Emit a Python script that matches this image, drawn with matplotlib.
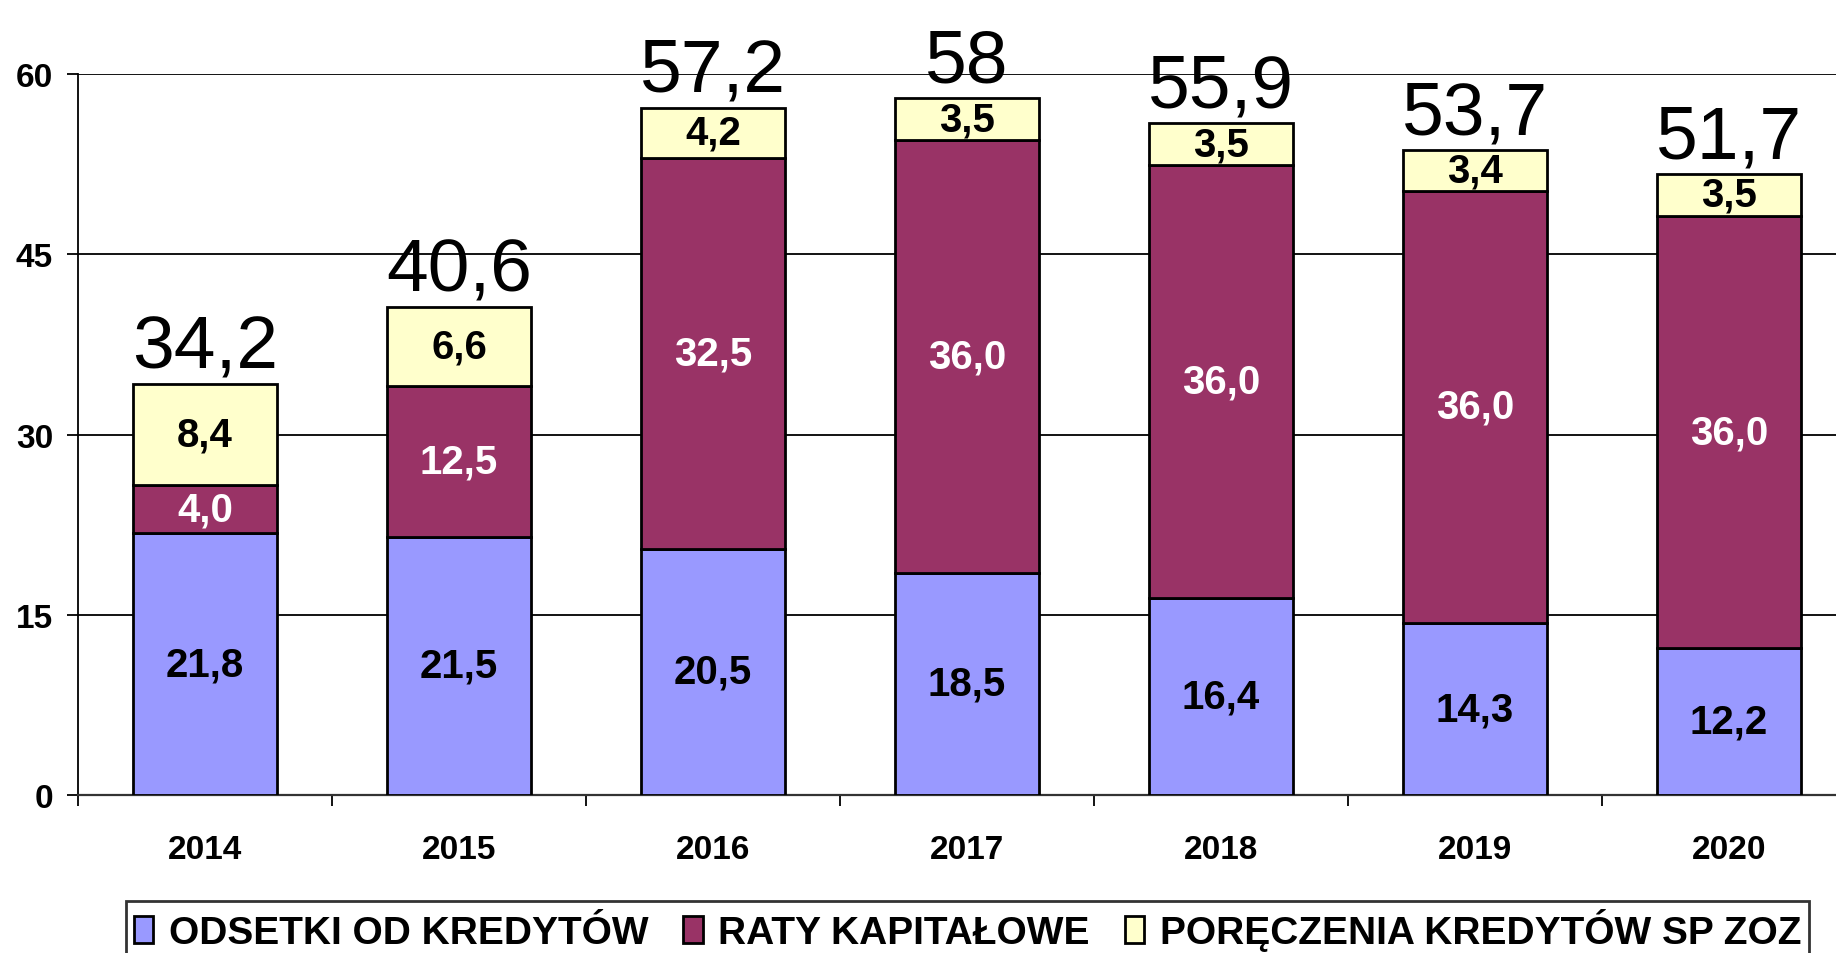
import numpy as np
import matplotlib
matplotlib.use("Agg")
import matplotlib.pyplot as plt

plt.rcParams['font.family'] = ['Liberation Sans', 'DejaVu Sans']

years = ['2014', '2015', '2016', '2017', '2018', '2019', '2020']
odsetki = [21.8, 21.5, 20.5, 18.5, 16.4, 14.3, 12.2]
raty = [4.0, 12.5, 32.5, 36.0, 36.0, 36.0, 36.0]
poreczenia = [8.4, 6.6, 4.2, 3.5, 3.5, 3.4, 3.5]
totals = ['34,2', '40,6', '57,2', '58', '55,9', '53,7', '51,7']

series = [
    ('ODSETKI OD KREDYTÓW', odsetki, '#9999FF', 'black'),
    ('RATY KAPITAŁOWE', raty, '#993366', 'white'),
    ('PORĘCZENIA KREDYTÓW SP ZOZ', poreczenia, '#FFFFCC', 'black'),
]

fig = plt.figure(figsize=(18.36, 9.54), dpi=100)
ax = fig.add_axes([78 / 1836, 158 / 954, (1836 - 78) / 1836, (796 - 75) / 954])

ind = np.arange(len(years))
width = 0.565
bottom = np.zeros(len(years))
handles = []
for name, vals, color, txtcolor in series:
    vals = np.array(vals)
    bars = ax.bar(ind, vals, width, bottom=bottom, color=color,
                  edgecolor='black', linewidth=2, label=name, zorder=3)
    handles.append(bars)
    for x, b, v in zip(ind, bottom, vals):
        ax.text(x, b + v / 2, '{:.1f}'.format(v).replace('.', ','),
                ha='center', va='center', fontsize=29, fontweight='bold',
                color=txtcolor, zorder=4)
    bottom = bottom + vals

# totals above the bars
for x, top, lab in zip(ind, bottom, totals):
    ax.annotate(lab, (x, top), xytext=(0, 12), textcoords='offset points',
                ha='center', va='baseline', fontsize=54, zorder=5,
                annotation_clip=False)

ax.set_yticks([0, 15, 30, 45, 60])
ax.yaxis.grid(True, color='black', linewidth=1.3, zorder=0)
ax.set_axisbelow(True)

ax.set_xticks(ind)
ax.set_xticklabels(years, fontsize=24, fontweight='bold')
ax.tick_params(axis='x', length=0, pad=28)
ax.set_xticks(np.arange(-0.5, 6, 1), minor=True)
ax.tick_params(axis='x', which='minor', length=8, width=1.3, direction='out')
ax.tick_params(axis='y', length=8, width=1.3, labelsize=24, pad=10)
for lab in ax.get_yticklabels():
    lab.set_fontweight('bold')

# category width in the original is ~254 px, the plot runs off the right edge
ax.set_ylim(0, 60)
ax.set_xlim(-0.5, -0.5 + 1758 / 254)

for s in ['top', 'right']:
    ax.spines[s].set_visible(False)
ax.spines['left'].set_linewidth(1.3)
ax.spines['bottom'].set_linewidth(1.6)
ax.spines['bottom'].set_color('#333333')

leg = fig.legend(handles=handles, loc='upper center', bbox_to_anchor=(0.527, 0.055),
                 ncol=3, prop={'weight': 'bold', 'size': 28},
                 frameon=True, fancybox=False, edgecolor='black',
                 handlelength=0.5, handleheight=0.7, handletextpad=0.4,
                 columnspacing=0.9, borderpad=0.2, borderaxespad=0)
leg.get_frame().set_linewidth(2)

fig.savefig('out.png', dpi=100)
